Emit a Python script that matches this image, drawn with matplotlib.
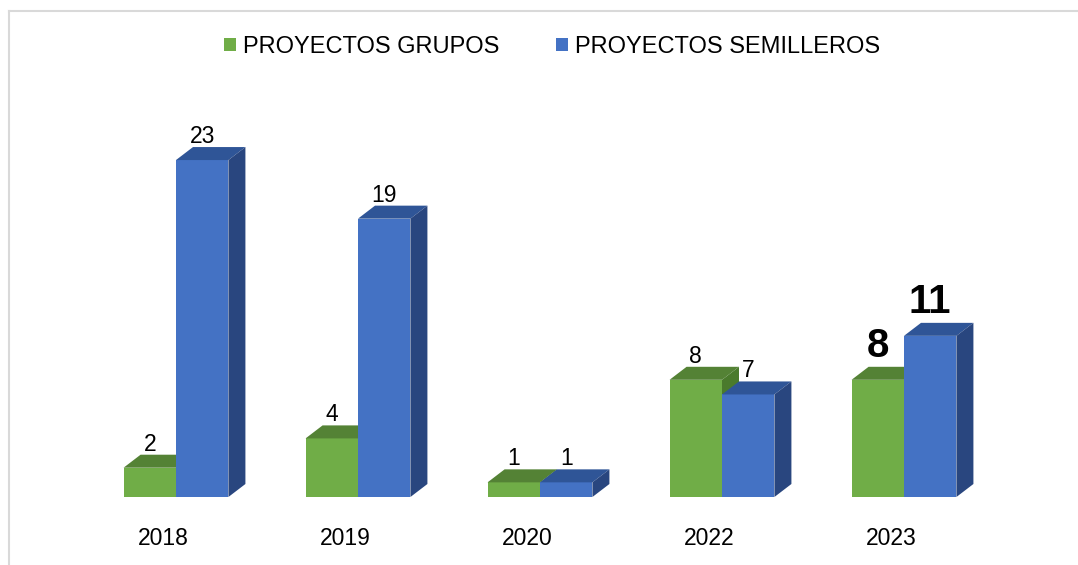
import matplotlib.pyplot as plt
from matplotlib.patches import Polygon, Rectangle, Patch

plt.rcParams['font.family'] = ['Liberation Sans', 'DejaVu Sans']

years = ['2018', '2019', '2020', '2022', '2023']
grupos = [2, 4, 1, 8, 8]
semilleros = [23, 19, 1, 7, 11]
series_names = ['PROYECTOS GRUPOS', 'PROYECTOS SEMILLEROS']

# front / top / side colours for each series
green = ('#70ad47', '#548235', '#4a7a2c')
blue = ('#4472c4', '#2f5597', '#29467f')

bar_w = 0.288
dx = 17 / 182     # depth offset in category units
dy = 13 / 14.65   # depth offset in value units


def bar3d(ax, x0, h, cols):
    front, top, side = cols
    ax.add_patch(Rectangle((x0, 0), bar_w, h, facecolor=front, edgecolor='none'))
    ax.add_patch(Polygon([(x0, h), (x0 + dx, h + dy), (x0 + bar_w + dx, h + dy), (x0 + bar_w, h)],
                         facecolor=top, edgecolor='none'))
    ax.add_patch(Polygon([(x0 + bar_w, 0), (x0 + bar_w + dx, dy), (x0 + bar_w + dx, h + dy), (x0 + bar_w, h)],
                         facecolor=side, edgecolor='none'))


fig = plt.figure(figsize=(10.78, 5.65), dpi=100)
ax = fig.add_axes([0, 0, 1, 1])
ax.set_xlim(-176 / 182, (1078 - 176) / 182)
ax.set_ylim(-68 / 14.65, (565 - 68) / 14.65)
ax.axis('off')

for i, yr in enumerate(years):
    bar3d(ax, i - bar_w, grupos[i], green)
    bar3d(ax, i, semilleros[i], blue)
    big = (i == len(years) - 1)
    kw = dict(fontsize=29, fontweight='bold') if big else dict(fontsize=16.5)
    off = 1.55 if big else 1.16
    ax.text(i - bar_w / 2, grupos[i] + off, str(grupos[i]), ha='center', va='baseline', color='black', **kw)
    ax.text(i + bar_w / 2, semilleros[i] + off, str(semilleros[i]), ha='center', va='baseline', color='black', **kw)
    ax.text(i - 13 / 182, -2.8, yr, ha='center', va='center', fontsize=16.5, color='black')

handles = [Patch(facecolor=green[0]), Patch(facecolor=blue[0])]
ax.legend(handles, series_names, loc='center', bbox_to_anchor=(552 / 1078, 1 - 47 / 565),
          ncol=2, frameon=False, fontsize=17, handlelength=0.5, handleheight=0.5,
          handletextpad=0.3, columnspacing=2.4)

# thin frame of the chart area
fig.add_artist(plt.Line2D([9 / 1078, 9 / 1078], [0, 1 - 11 / 565], color='#d9d9d9', lw=1.5))
fig.add_artist(plt.Line2D([9 / 1078, 1], [1 - 11 / 565, 1 - 11 / 565], color='#d9d9d9', lw=1.5))

fig.savefig('out.png', dpi=100)
